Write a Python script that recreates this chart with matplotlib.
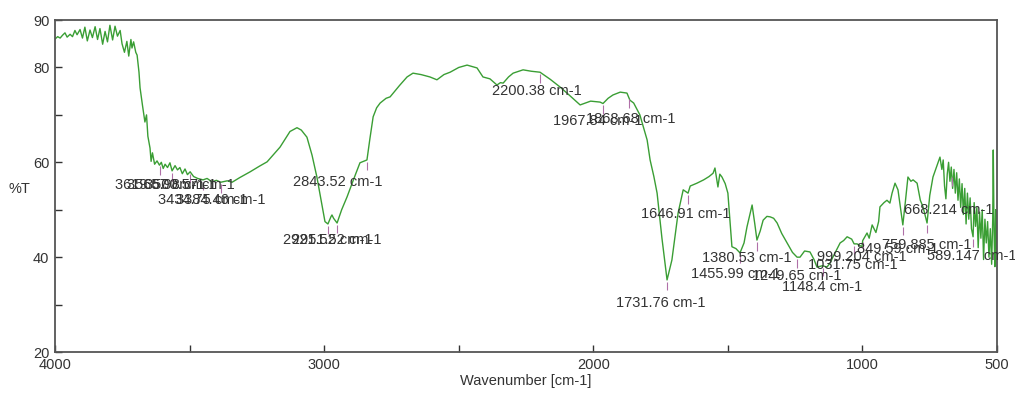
import numpy as np
import matplotlib
matplotlib.use("Agg")
import matplotlib.pyplot as plt

plt.rcParams['font.family'] = ['Liberation Sans', 'DejaVu Sans']

# FTIR spectrum (wavenumber cm-1, %T)
wavenumber = [
    4000, 3990, 3981, 3972, 3963, 3955, 3944, 3935, 3926, 3918, 3907, 3898, 3889, 3880,
    3870, 3861, 3851, 3842, 3833, 3823, 3814, 3805, 3796, 3786, 3777, 3768, 3758, 3751,
    3742, 3733, 3726, 3718, 3714, 3708, 3700, 3695, 3688, 3684, 3675, 3666, 3660, 3655,
    3647, 3643, 3638, 3630, 3621, 3612, 3605, 3598, 3591, 3582, 3573, 3565, 3554, 3545,
    3536, 3527, 3517, 3508, 3498, 3485, 3470, 3450, 3435, 3417, 3400, 3384, 3360, 3342,
    3313, 3275, 3240, 3212, 3164, 3127, 3101, 3085, 3064, 3045, 3027, 3010, 2997, 2986,
    2975, 2971, 2965, 2952, 2935, 2915, 2890, 2867, 2850, 2841, 2830, 2818, 2805, 2792,
    2770, 2755, 2720, 2692, 2670, 2640, 2607, 2581, 2555, 2532, 2500, 2469, 2450, 2432,
    2410, 2384, 2358, 2345, 2335, 2315, 2298, 2261, 2230, 2198, 2160, 2124, 2090, 2049,
    2010, 1975, 1964, 1945, 1927, 1900, 1875, 1864, 1850, 1827, 1800, 1789, 1775, 1763,
    1745, 1726, 1708, 1695, 1685, 1666, 1648, 1640, 1615, 1590, 1570, 1555, 1548, 1543,
    1537, 1530, 1522, 1510, 1500, 1490, 1485, 1470, 1455, 1440, 1429, 1410, 1400, 1392,
    1380, 1369, 1355, 1343, 1330, 1317, 1300, 1280, 1260, 1243, 1232, 1215, 1195, 1180,
    1169, 1148, 1132, 1120, 1110, 1083, 1070, 1057, 1040, 1031, 1020, 1002, 999, 983,
    975, 964, 950, 940, 935, 920, 909, 898, 890, 879, 868, 858, 850, 840,
    831, 820, 812, 797, 785, 775, 760, 750, 738, 725, 712, 705, 700, 695,
    690, 685, 680, 675, 670, 665, 660, 655, 650, 645, 640, 635, 630, 625,
    620, 615, 610, 605, 600, 595, 589, 585, 580, 575, 570, 565, 560, 555,
    550, 545, 540, 535, 530, 525, 520, 516, 514, 511, 508, 505, 502, 500,
]
transmittance = [
    86.0, 86.5, 86.2, 86.8, 87.3, 86.4, 87.0, 86.5, 87.8, 86.9, 88.0, 86.2, 88.5, 85.6,
    87.9, 86.3, 88.6, 85.9, 88.2, 84.9, 87.6, 85.4, 88.9, 85.8, 88.7, 86.6, 87.8, 85.0,
    83.2, 85.5, 82.4, 85.9, 84.1, 85.4, 83.2, 82.6, 79.0, 75.7, 72.0, 68.5, 70.0, 65.5,
    63.0, 60.2, 62.0, 59.6, 60.3, 59.4, 60.0, 58.7, 59.6, 58.9, 59.9, 58.2, 59.3, 58.4,
    58.9, 57.6, 58.6, 57.4, 58.0, 57.0, 56.6, 56.3, 56.6, 55.9, 56.2, 55.8, 56.1, 55.8,
    56.8, 58.0, 59.2, 60.1, 63.2, 66.5, 67.3, 66.8, 65.3, 61.5, 56.9, 51.5, 47.5, 47.0,
    48.5, 48.9, 48.2, 47.2, 50.0, 52.7, 56.5, 59.9, 60.3, 60.5, 65.0, 69.6, 71.5, 72.5,
    73.5, 73.8, 76.2, 78.0, 78.8, 78.5, 78.0, 77.4, 78.5, 79.0, 80.0, 80.5, 80.2, 79.9,
    78.0, 77.6, 76.3, 76.8, 76.7, 78.0, 78.8, 79.5, 79.2, 79.0, 77.5, 75.9, 74.2, 72.1,
    72.9, 72.7, 72.4, 73.5, 74.2, 74.8, 74.6, 73.1, 72.5, 70.0, 64.7, 60.5, 57.0, 53.5,
    44.0, 35.2, 39.4, 45.0, 49.3, 54.2, 53.5, 55.0, 55.6, 56.3, 57.0, 57.7, 58.8, 57.0,
    54.8, 57.5, 56.9, 55.5, 53.5, 46.0, 42.2, 41.8, 40.9, 43.0, 46.4, 51.0, 47.0, 43.6,
    45.5, 47.8, 48.6, 48.5, 48.2, 47.2, 45.0, 43.0, 41.0, 40.0, 40.0, 41.3, 41.1, 39.5,
    37.9, 38.2, 37.9, 38.8, 40.0, 43.0, 43.5, 44.3, 43.8, 42.8, 42.8, 42.2, 43.5, 45.1,
    44.0, 46.8, 45.2, 47.5, 50.6, 51.5, 52.0, 51.4, 53.5, 55.6, 54.2, 50.0, 46.8, 52.0,
    56.9, 56.0, 56.3, 55.6, 52.0, 50.6, 47.2, 53.0, 56.9, 59.0, 61.1, 58.5, 60.5, 55.0,
    52.3, 57.5, 60.0, 56.0, 59.0, 54.5, 58.5, 53.5, 57.8, 52.0, 56.5, 50.5, 55.5, 49.0,
    54.5, 47.0, 53.5, 48.0, 52.5, 46.0, 44.3, 51.5, 46.5, 50.5, 42.0, 49.5, 44.0, 50.0,
    39.5, 48.0, 43.0, 47.5, 40.0, 46.0, 38.5, 48.0, 62.6, 45.0, 38.0, 50.0, 42.0, 41.0,
]

# peak labels: tick wavenumber, label text, label centre x, label centre y
peak_x = [3610, 3565, 3498, 3450, 3384, 2986, 2952, 2841, 2198, 1964, 1868,
          1726, 1648, 1455, 1392, 1243, 1148, 1031, 999, 850, 760, 668, 589]
peak_text = ["3619.67 cm-1", "3565.98 cm-1", "3500.57 cm-1", "3434.75 cm-1", "3384.46 cm-1",
             "2921.52 cm-1", "2951.52 cm-1", "2843.52 cm-1", "2200.38 cm-1", "1967.84 cm-1",
             "1868.68 cm-1", "1731.76 cm-1", "1646.91 cm-1", "1455.99 cm-1", "1380.53 cm-1",
             "1249.65 cm-1", "1148.4 cm-1", "1031.75 cm-1", "999.204 cm-1", "849.59 cm-1",
             "759.885 cm-1", "668.214 cm-1", "589.147 cm-1"]
label_x = [3610, 3565, 3498, 3450, 3384, 2986, 2952, 2949, 2210, 1985, 1862,
           1750, 1655, 1470, 1430, 1245, 1150, 1035, 1002, 870, 760, 678, 595]
label_y = [55.2, 55.2, 55.2, 52.0, 52.0, 43.6, 43.6, 55.8, 75.0, 68.7, 69.1,
           30.3, 49.1, 36.4, 39.8, 36.0, 33.7, 38.3, 40.0, 41.7, 42.6, 49.9, 40.2]

fig = plt.figure(figsize=(10.15, 3.93), dpi=100)
ax = fig.add_axes([0.0542, 0.1043, 0.9281, 0.8447])

ax.plot(wavenumber, transmittance, color='#3a9e34', linewidth=1.0)

# little marker ticks under each labelled peak, then the labels
wn_sorted = np.array(wavenumber[::-1])
tr_sorted = np.array(transmittance[::-1])
for px, txt, lx, ly in zip(peak_x, peak_text, label_x, label_y):
    yc = np.interp(px, wn_sorted, tr_sorted)
    ax.vlines(px, yc - 2.2, yc - 0.4, color='#b070a8', linewidth=0.8)
    ax.text(lx, ly, txt, fontsize=10.5, color='#333333', ha='center', va='center')

ax.set_xlim(4000, 500)
ax.set_ylim(20, 90)

ax.set_xticks([4000, 3500, 3000, 2500, 2000, 1500, 1000, 500])
ax.set_xticklabels(['4000', '', '3000', '', '2000', '', '1000', '500'])
ax.set_yticks([20, 30, 40, 50, 60, 70, 80, 90])
ax.set_yticklabels(['20', '', '40', '', '60', '', '80', '90'])
ax.tick_params(direction='in', length=5, width=1, colors='#333333', labelsize=10.5, pad=4)

for side in ax.spines.values():
    side.set_color('#555555')
    side.set_linewidth(1.3)

ax.set_xlabel('Wavenumber [cm-1]', fontsize=10.5, color='#333333', labelpad=2)
ax.set_ylabel('%T', fontsize=10.5, color='#333333', rotation=0, labelpad=14)
ax.yaxis.set_label_coords(-0.038, 0.47)

fig.savefig('out.png', dpi=100)
